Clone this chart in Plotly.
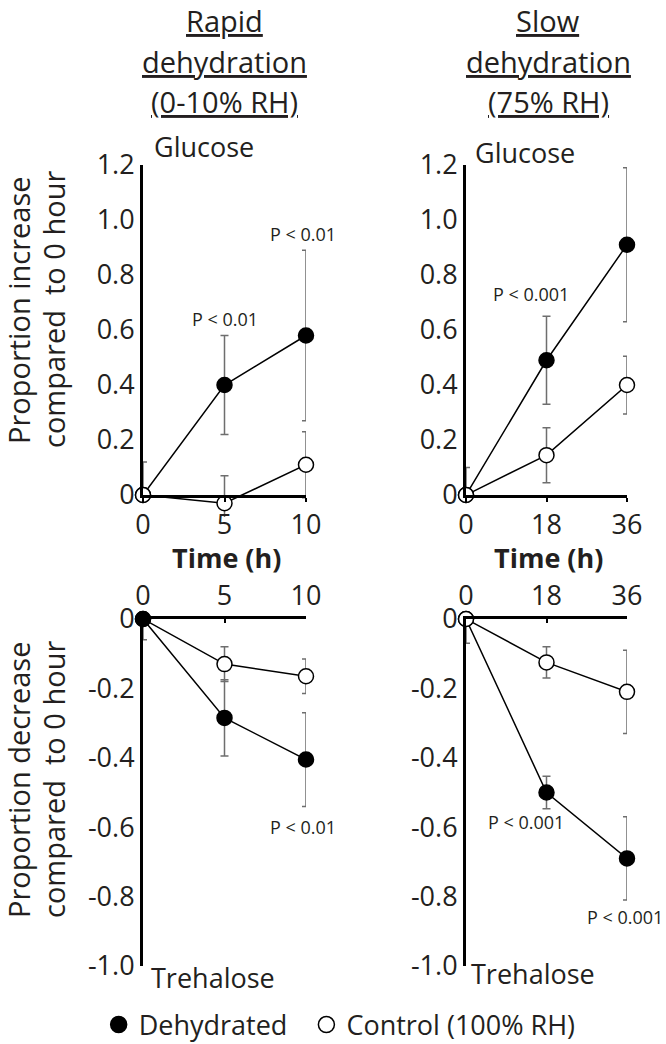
import plotly.graph_objects as go

# time points (h)
t_rapid = [0, 5, 10]
t_slow = [0, 18, 36]

# glucose, rapid dehydration
glu_rapid_dehy = [0, 0.40, 0.58]
glu_rapid_dehy_se = [0, 0.18, 0.31]
glu_rapid_ctrl = [0, -0.03, 0.11]
glu_rapid_ctrl_se = [0.12, 0.10, 0.12]

# glucose, slow dehydration
glu_slow_dehy = [0, 0.49, 0.91]
glu_slow_dehy_se = [0, 0.16, 0.28]
glu_slow_ctrl = [0, 0.145, 0.40]
glu_slow_ctrl_se = [0.10, 0.10, 0.105]

# trehalose, rapid dehydration
tre_rapid_dehy = [0, -0.285, -0.405]
tre_rapid_dehy_se = [0, 0.11, 0.135]
tre_rapid_ctrl = [0, -0.13, -0.165]
tre_rapid_ctrl_se = [0.06, 0.05, 0.05]

# trehalose, slow dehydration
tre_slow_dehy = [0, -0.50, -0.69]
tre_slow_dehy_se = [0, 0.047, 0.12]
tre_slow_ctrl = [0, -0.125, -0.21]
tre_slow_ctrl_se = [0.07, 0.045, 0.12]

glu_ticks = [0, 0.2, 0.4, 0.6, 0.8, 1.0, 1.2]
glu_ticktext = ["0", "0.2", "0.4", "0.6", "0.8", "1.0", "1.2"]
tre_ticks = [0, -0.2, -0.4, -0.6, -0.8, -1.0]
tre_ticktext = ["0", "-0.2", "-0.4", "-0.6", "-0.8", "-1.0"]

FONT = "Open Sans"
TXT = "#231f20"
ERR = "#6e6e6e"

fig = go.Figure()


def err(se, up):
    # bar at time 0 only shows the half inside the axes
    plus = [s if (i > 0 or up) else 0 for i, s in enumerate(se)]
    minus = [s if (i > 0 or not up) else 0 for i, s in enumerate(se)]
    return dict(type="data", symmetric=False, array=plus, arrayminus=minus,
                color=ERR, thickness=1.5, width=4)


def add(x, y, se, filled, xa, ya, up):
    fig.add_trace(go.Scatter(
        x=x, y=y, mode="lines+markers", xaxis=xa, yaxis=ya,
        line=dict(color="black", width=1.5),
        marker=dict(size=15, color="black" if filled else "white",
                    line=dict(color="black", width=1.5)),
        error_y=err(se, up), cliponaxis=False, showlegend=False, hoverinfo="skip"))


add(t_rapid, glu_rapid_dehy, glu_rapid_dehy_se, True, "x", "y", True)
add(t_rapid, glu_rapid_ctrl, glu_rapid_ctrl_se, False, "x", "y", True)
add(t_slow, glu_slow_dehy, glu_slow_dehy_se, True, "x2", "y2", True)
add(t_slow, glu_slow_ctrl, glu_slow_ctrl_se, False, "x2", "y2", True)
add(t_rapid, tre_rapid_ctrl, tre_rapid_ctrl_se, False, "x3", "y3", False)
add(t_rapid, tre_rapid_dehy, tre_rapid_dehy_se, True, "x3", "y3", False)
add(t_slow, tre_slow_dehy, tre_slow_dehy_se, True, "x4", "y4", False)
add(t_slow, tre_slow_ctrl, tre_slow_ctrl_se, False, "x4", "y4", False)

# empty trace so the drawn axes of the top-left panel exist
fig.add_trace(go.Scatter(x=[None], y=[None], xaxis="x5", yaxis="y5", showlegend=False, hoverinfo="skip"))

# legend entries
fig.add_trace(go.Scatter(x=[None], y=[None], mode="markers", name="Dehydrated\u00a0\u00a0",
                         marker=dict(size=16, color="black", line=dict(color="black", width=1.5))))
fig.add_trace(go.Scatter(x=[None], y=[None], mode="markers", name="Control (100% RH)",
                         marker=dict(size=16, color="white", line=dict(color="black", width=1.5))))

W, H = 666, 1044
xl = [143 / W, 306 / W]
xr = [466 / W, 627 / W]
yt = [1 - 495 / H, 1 - 165 / H]
yb = [1 - 966 / H, 1 - 619 / H]
# top-left data axes reach a little below 0 so the dipping control point stays visible
pad = 0.08
yt_data = [1 - (495 + pad * 330 / 1.2) / H, yt[1]]

xcommon = dict(showgrid=False, zeroline=False, showline=True, linecolor="black", linewidth=3,
               tickfont=dict(size=27, color=TXT), ticklen=4, tickwidth=2, tickcolor="black",
               automargin=False)
ycommon = dict(showgrid=False, zeroline=False, showline=True, linecolor="black", linewidth=3,
               tickfont=dict(size=27, color=TXT), ticks="", tickmode="array", automargin=False)

fig.update_layout(
    # data axes of the top-left panel (hidden), drawn axes are xaxis5 / yaxis5
    xaxis=dict(domain=xl, anchor="y", range=[0, 10], visible=False),
    yaxis=dict(domain=yt_data, anchor="x", range=[-pad, 1.2], visible=False),
    xaxis5=dict(domain=xl, anchor="y5", range=[0, 10], tickvals=t_rapid, ticks="outside", **xcommon),
    yaxis5=dict(domain=yt, anchor="x5", range=[0, 1.2], tickvals=glu_ticks, ticktext=glu_ticktext, **ycommon),
    xaxis2=dict(domain=xr, anchor="y2", range=[0, 36], tickvals=t_slow, ticks="outside", **xcommon),
    yaxis2=dict(domain=yt, anchor="x2", range=[0, 1.2], tickvals=glu_ticks, ticktext=glu_ticktext, **ycommon),
    xaxis3=dict(domain=xl, anchor="y3", range=[0, 10], tickvals=t_rapid, ticks="inside", side="top", **xcommon),
    yaxis3=dict(domain=yb, anchor="x3", range=[-1.0, 0], tickvals=tre_ticks, ticktext=tre_ticktext, **ycommon),
    xaxis4=dict(domain=xr, anchor="y4", range=[0, 36], tickvals=t_slow, ticks="inside", side="top", **xcommon),
    yaxis4=dict(domain=yb, anchor="x4", range=[-1.0, 0], tickvals=tre_ticks, ticktext=tre_ticktext, **ycommon),
    width=W, height=H, margin=dict(l=0, r=0, t=0, b=0, autoexpand=False),
    plot_bgcolor="rgba(0,0,0,0)", paper_bgcolor="white",
    font=dict(family=FONT, color=TXT),
    legend=dict(orientation="h", x=0.51, xanchor="center", y=1 - 1025 / H, yanchor="middle",
                font=dict(size=27, color=TXT), itemwidth=30, bgcolor="rgba(0,0,0,0)"),
)

ann = []


def px(x, y, text, size, **kw):
    ann.append(dict(x=x / W, y=1 - y / H, xref="paper", yref="paper", text=text, showarrow=False,
                    xanchor="center", yanchor="middle",
                    font=dict(size=size, color=TXT, family=FONT), **kw))


# column titles
for cx, lines in [(224, ["Rapid", "dehydration", "(0-10% RH)"]), (548, ["Slow", "dehydration", "(75% RH)"])]:
    for i, s in enumerate(lines):
        px(cx, 21 + 40 * i, "<u>" + s + "</u>", 29)

px(204, 147, "Glucose", 27)
px(525, 152, "Glucose", 27)
px(213, 977, "Trehalose", 27)
px(533, 973, "Trehalose", 27)
px(226, 557, "<b>Time (h)</b>", 27)
px(548, 557, "<b>Time (h)</b>", 27)

px(18, 310, "Proportion increase", 29, textangle=-90)
px(53, 310, "compared  to 0 hour", 29, textangle=-90)
px(18, 780, "Proportion decrease", 29, textangle=-90)
px(53, 780, "compared  to 0 hour", 29, textangle=-90)

# significance labels
pv = [("x", "y", 5, 0.64, "P < 0.01"), ("x", "y", 9.8, 0.95, "P < 0.01"),
      ("x2", "y2", 14.5, 0.73, "P < 0.001"), ("x2", "y2", 36, 1.25, "P < 0.001"),
      ("x3", "y3", 9.8, -0.60, "P < 0.01"),
      ("x4", "y4", 13.5, -0.585, "P < 0.001"), ("x4", "y4", 35.5, -0.86, "P < 0.001")]
for xa, ya, x, y, s in pv:
    ann.append(dict(x=x, y=y, xref=xa, yref=ya, text=s, showarrow=False,
                    font=dict(size=18, color=TXT, family=FONT)))

fig.update_layout(annotations=ann)
fig.write_html("out.html", config={"displayModeBar": False},
               post_script="document.body.style.margin='0px';")
